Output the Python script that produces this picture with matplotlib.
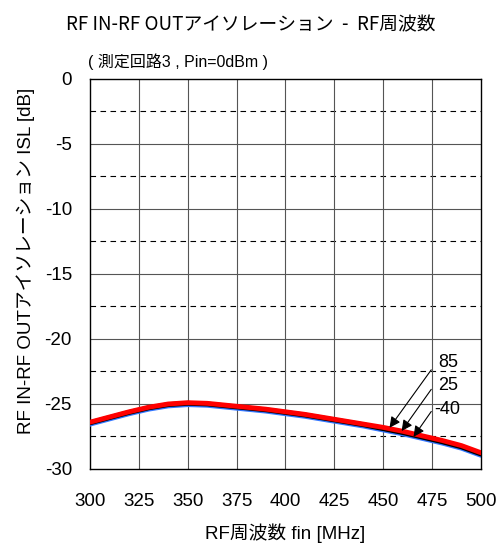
import matplotlib
matplotlib.use("Agg")
import matplotlib.pyplot as plt
import numpy as np

plt.rcParams['font.family'] = ['Liberation Sans', 'Noto Sans CJK JP']
plt.rcParams['axes.unicode_minus'] = False

freq = [300, 310, 320, 330, 340, 350, 360, 370, 380, 390, 400,
        410, 420, 430, 440, 450, 460, 470, 480, 490, 500]
isl_85 = [-26.4, -26.0, -25.6, -25.25, -25.0, -24.9, -24.95, -25.1, -25.25, -25.4, -25.6,
          -25.8, -26.05, -26.3, -26.55, -26.8, -27.1, -27.45, -27.8, -28.2, -28.75]
isl_25 = [-26.45, -26.05, -25.65, -25.3, -25.05, -24.95, -25.0, -25.15, -25.3, -25.45, -25.65,
          -25.85, -26.1, -26.35, -26.6, -26.9, -27.2, -27.55, -27.9, -28.3, -28.85]
isl_m40 = [-26.55, -26.15, -25.75, -25.4, -25.15, -25.05, -25.1, -25.25, -25.4, -25.55, -25.75,
           -25.95, -26.2, -26.45, -26.7, -27.0, -27.3, -27.65, -28.0, -28.4, -28.95]

fig = plt.figure(figsize=(5.01, 5.44), dpi=100)
ax = fig.add_axes([0.1796, 0.1379, 0.7804, 0.7169])

for y in np.arange(-27.5, 0, 5):
    ax.axhline(y, color='black', lw=0.8, ls=(0, (5, 4)), zorder=1)
for y in np.arange(-25, 0, 5):
    ax.axhline(y, color='#555555', lw=0.8, zorder=1)
for x in np.arange(325, 500, 25):
    ax.axvline(x, color='#555555', lw=0.8, zorder=1)

ax.plot(freq, isl_m40, color='#3377ff', lw=3.5, zorder=3)
ax.plot(freq, isl_25, color='black', lw=3.5, zorder=4)
ax.plot(freq, isl_85, color='red', lw=3.5, zorder=5)

ax.set_xlim(300, 500)
ax.set_ylim(-30, 0)
ax.set_xticks(np.arange(300, 501, 25))
ax.set_yticks(np.arange(-30, 1, 5))
ax.tick_params(length=0, labelsize=13.5)
ax.tick_params(axis='x', pad=17)
ax.tick_params(axis='y', pad=13)
for s in ax.spines.values():
    s.set_linewidth(1.0)

arr = dict(arrowstyle='-|>', color='black', lw=0.8, mutation_scale=16)
ax.annotate('', xy=(452.4, -27.0), xytext=(475.4, -22.2), arrowprops=arr, zorder=6)
ax.annotate('', xy=(458.6, -27.25), xytext=(475.4, -23.7), arrowprops=arr, zorder=6)
ax.annotate('', xy=(464.7, -27.7), xytext=(475.4, -25.4), arrowprops=arr, zorder=6)
ax.text(478, -21.8, '85', fontsize=13, va='center')
ax.text(478, -23.6, '25', fontsize=13, va='center')
ax.text(476, -25.4, '-40', fontsize=13, va='center')

ax.set_xlabel('RF周波数 fin [MHz]', fontsize=13.5, labelpad=10)
ax.set_ylabel('RF IN-RF OUTアイソレーション ISL [dB]', fontsize=13.5)
ax.yaxis.set_label_coords(-0.14, 0.533)
fig.text(0.5, 0.954, 'RF IN-RF OUTアイソレーション  -  RF周波数', ha='center', va='center',
         fontsize=13.5, family=['Noto Sans CJK JP'])
fig.text(0.176, 0.886, '( 測定回路3 , Pin=0dBm )', ha='left', va='center', fontsize=11.5)

fig.savefig('out.png', dpi=100)
